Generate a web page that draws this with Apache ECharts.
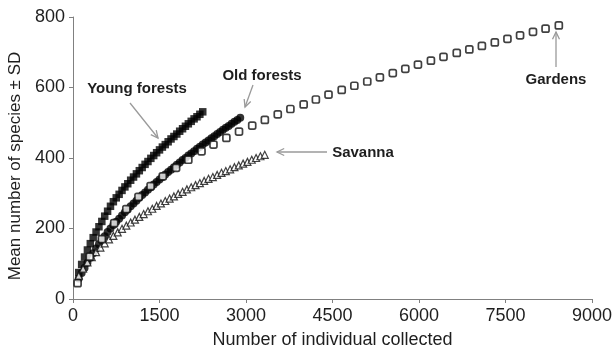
<!DOCTYPE html>
<html>
<head>
<meta charset="utf-8">
<script src="https://cdn.jsdelivr.net/npm/echarts@6/dist/echarts.min.js"></script>
<style>
  html, body { margin: 0; padding: 0; background: #fff; }
  #chart { width: 615px; height: 354px; }
</style>
</head>
<body>
<div id="chart"></div>
<script>
// x ticks / y ticks
const xTicks = [0, 1500, 3000, 4500, 6000, 7500, 9000];
const yTicks = [0, 200, 400, 600, 800];

// Young forests (filled squares)
const youngX = [100, 150, 200, 250, 300, 350, 400, 450, 500, 550, 600, 650, 700, 750, 800, 850, 900, 950, 1000, 1050,
  1100, 1150, 1200, 1250, 1300, 1350, 1400, 1450, 1500, 1550, 1600, 1650, 1700, 1750, 1800, 1850, 1900, 1950, 2000,
  2050, 2100, 2150, 2200, 2250];
const youngY = [75, 98, 119, 139, 157, 174, 190, 205, 220, 235, 249, 263, 276, 287, 297, 308, 318, 327, 337, 346,
  355, 364, 373, 382, 390, 399, 407, 415, 423, 431, 438, 446, 454, 461, 468, 476, 483, 490, 497,
  504, 511, 517, 524, 531];

// Old forests (filled circles)
const oldX = [100, 150, 200, 250, 300, 350, 400, 450, 500, 550, 600, 650, 700, 750, 800, 850, 900, 950, 1000, 1050,
  1100, 1150, 1200, 1250, 1300, 1350, 1400, 1450, 1500, 1550, 1600, 1650, 1700, 1750, 1800, 1850, 1900, 1950, 2000,
  2050, 2100, 2150, 2200, 2250, 2300, 2350, 2400, 2450, 2500, 2550, 2600, 2650, 2700, 2750, 2800, 2850, 2900];
const oldY = [58, 74, 88, 103, 117, 130, 143, 155, 167, 178, 190, 200, 210, 219, 228, 237, 246, 254, 263, 271,
  279, 287, 295, 302, 310, 317, 325, 332, 339, 346, 353, 360, 367, 374, 381, 387, 394, 400, 407,
  413, 419, 426, 432, 438, 444, 450, 456, 462, 468, 474, 480, 486, 491, 497, 503, 508, 514];

// Savanna (open triangles)
const savannaX = [100, 175, 250, 325, 400, 475, 550, 625, 700, 775, 850, 925, 1000, 1075, 1150, 1225, 1300, 1375,
  1450, 1525, 1600, 1675, 1750, 1825, 1900, 1975, 2050, 2125, 2200, 2275, 2350, 2425, 2500, 2575, 2650, 2725,
  2800, 2875, 2950, 3025, 3100, 3175, 3250, 3325];
const savannaY = [66, 86, 104, 119, 133, 146, 158, 169, 179, 189, 199, 208, 217, 225, 233, 241, 249, 256,
  264, 271, 278, 285, 291, 298, 304, 311, 317, 323, 329, 335, 341, 346, 352, 358, 363, 368,
  374, 379, 384, 389, 395, 400, 405, 409];

// Gardens (open circles)
const gardenX = [80, 290, 500, 715, 925, 1135, 1345, 1557, 1788, 2000, 2229, 2436, 2660, 2879, 3108, 3327, 3551,
  3770, 4000, 4212, 4431, 4660, 4879, 5103, 5322, 5546, 5763, 5982, 6207, 6425, 6655, 6873, 7091, 7315, 7534,
  7753, 7977, 8195, 8425];
const gardenY = [45, 120, 170, 215, 255, 290, 320, 348, 372, 395, 419, 438, 457, 475, 492, 508, 524,
  539, 552, 566, 580, 593, 605, 617, 629, 641, 653, 665, 676, 687, 698, 708, 718, 728, 738,
  748, 758, 767, 776];

const FONT = '"Liberation Sans", Arial, sans-serif';
const TEXT = "#1e1e1e";
const pairs = (xs, ys) => xs.map((x, i) => [x, ys[i]]);

// gray annotation arrow: line plus open V head at (x2, y2)
function arrow(x1, y1, x2, y2) {
  const ang = Math.atan2(y1 - y2, x1 - x2);
  const len = 8, spread = 0.45;
  const a = [x2 + len * Math.cos(ang + spread), y2 + len * Math.sin(ang + spread)];
  const b = [x2 + len * Math.cos(ang - spread), y2 + len * Math.sin(ang - spread)];
  return [
    { type: "line", shape: { x1, y1, x2, y2 }, style: { stroke: "#9a9a9a", lineWidth: 1.3 } },
    { type: "polyline", shape: { points: [a, [x2, y2], b] }, style: { stroke: "#9a9a9a", lineWidth: 1.3, fill: null } }
  ];
}

function label(text, x, y, font, rotation) {
  return {
    type: "text", x, y, rotation: rotation || 0,
    style: {
      text, fill: TEXT, font,
      align: "center", verticalAlign: "middle", textAlign: "center", textVerticalAlign: "middle"
    }
  };
}

const chart = echarts.init(document.getElementById("chart"), null, { renderer: "canvas" });

const tickText = { color: TEXT, fontSize: 18, fontFamily: FONT };

chart.setOption({
  animation: false,
  grid: { left: 73, right: 20, top: 17, bottom: 54 },
  xAxis: {
    type: "value", min: xTicks[0], max: xTicks[xTicks.length - 1], interval: 1500,
    name: "Number of individual collected", nameLocation: "middle", nameGap: 32,
    nameTextStyle: tickText,
    axisLine: { lineStyle: { color: "#808080", width: 1 } },
    axisTick: { show: true, length: 4, lineStyle: { color: "#808080" } },
    axisLabel: { ...tickText, margin: 8, formatter: (v) => String(v) },
    splitLine: { show: false }
  },
  yAxis: {
    type: "value", min: yTicks[0], max: yTicks[yTicks.length - 1], interval: 200,
    axisLine: { show: true, lineStyle: { color: "#808080", width: 1 } },
    axisTick: { show: true, length: 4, lineStyle: { color: "#808080" } },
    axisLabel: { ...tickText, margin: 8, formatter: (v) => String(v) },
    splitLine: { show: false }
  },
  series: [
    {
      name: "Old forests", type: "scatter", data: pairs(oldX, oldY),
      symbol: "circle", symbolSize: 8, itemStyle: { color: "#000" }
    },
    {
      name: "Young forests", type: "scatter", data: pairs(youngX, youngY),
      symbol: "rect", symbolSize: 7.5, itemStyle: { color: "#000" }
    },
    {
      name: "Savanna", type: "scatter", data: pairs(savannaX, savannaY),
      symbol: "triangle", symbolSize: 7,
      itemStyle: { color: "#fff", borderColor: "#111", borderWidth: 1.2 }
    },
    {
      name: "Gardens", type: "scatter", data: pairs(gardenX, gardenY),
      symbol: "roundRect", symbolSize: 7,
      itemStyle: { color: "#fff", borderColor: "#111", borderWidth: 1.7 }
    }
  ],
  graphic: [
    label("Mean number of species \u00b1 SD", 15, 166, "17px " + FONT, Math.PI / 2),
    label("Young forests", 137, 89, "bold 15px " + FONT),
    label("Old forests", 262, 76, "bold 15px " + FONT),
    label("Savanna", 363, 153, "bold 15px " + FONT),
    label("Gardens", 556, 80, "bold 15px " + FONT),
    ...arrow(130, 103, 158, 138),
    ...arrow(253, 85, 245, 107),
    ...arrow(327, 152, 277, 152),
    ...arrow(556, 67, 556, 32)
  ]
});
</script>
</body>
</html>
